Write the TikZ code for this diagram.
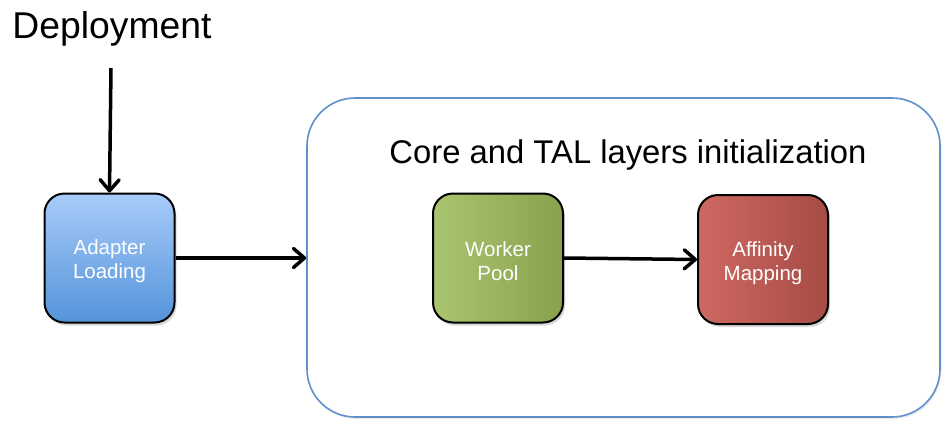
\documentclass[tikz,border=0pt]{standalone}
\usepackage{fontspec}
\setmainfont{Liberation Sans}
\usetikzlibrary{arrows.meta,shadows}
\definecolor{blueTop}{RGB}{168,203,250}
\definecolor{blueBot}{RGB}{84,148,218}
\definecolor{greenL}{RGB}{170,197,112}
\definecolor{greenR}{RGB}{136,161,76}
\definecolor{redL}{RGB}{206,104,98}
\definecolor{redR}{RGB}{166,75,69}
\definecolor{frameBlue}{RGB}{96,144,204}
\tikzset{
  box/.style={draw=black, line width=2pt, rounded corners=20pt,
    minimum width=130pt, minimum height=129pt,
    drop shadow={opacity=0.3, shadow xshift=2pt, shadow yshift=-3pt}},
  boxtext/.style={align=center, text=white, yshift=-3.5pt,
    font=\fontsize{20.5}{24}\selectfont},
  arr/.style={line width=3.5pt, line join=round,
    -{Straight Barb[length=11pt,width=19pt,round]}},
}
\begin{document}
\begin{tikzpicture}[x=1pt,y=-1pt]
\useasboundingbox (0,0) rectangle (942,421);
\node[draw=frameBlue, line width=1.6pt, rounded corners=48pt, fill=white,
  minimum width=633pt, minimum height=319pt,
  drop shadow={opacity=0.15, shadow xshift=1.5pt, shadow yshift=-2pt}]
  (container) at (623.5,257.5) {};
\node[font=\fontsize{32.8}{38}\selectfont] (title) at (628,155) {Core and TAL layers initialization};
\node[font=\fontsize{37.3}{44}\selectfont] (dep) at (112,29) {Deployment};
\coordinate (depend) at (111,68);
\node[box, top color=blueTop, bottom color=blueBot,
  label={[boxtext]center:Adapter\\Loading}] (adapter) at (109.5,258) {};
\node[box, left color=greenL, right color=greenR,
  label={[boxtext]center:Worker\\Pool}] (worker) at (498,258) {};
\node[box, left color=redL, right color=redR,
  label={[boxtext]center:Affinity\\Mapping}] (affinity) at (763,259.5) {};
\draw[arr] (depend) -- (adapter.north);
\draw[arr] (adapter.east) -- (adapter.east -| container.west);
\draw[arr] (worker.east) -- (affinity.west);
\end{tikzpicture}
\end{document}
